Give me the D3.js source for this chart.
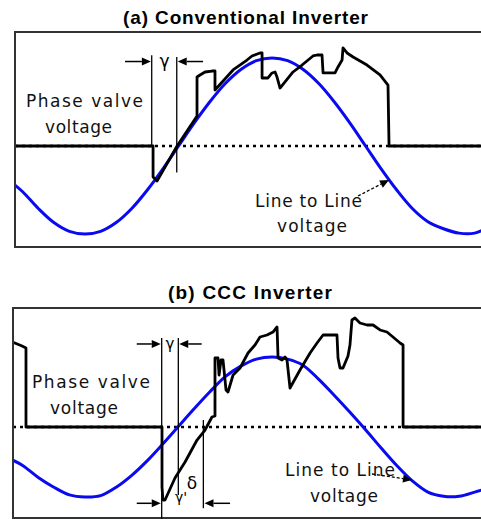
<!DOCTYPE html>
<html><head><meta charset="utf-8">
<script src="https://cdn.jsdelivr.net/npm/d3@7/dist/d3.min.js"></script>
<style>body{margin:0;background:#fff}svg{display:block}</style>
</head><body>
<svg id="c" width="481" height="521"></svg>
<script>
// ---- data (angle in electrical degrees, voltage in p.u. of line-to-line peak) ----
const sineAngles = [-160,-150,-135,-120,-105,-90,-75,-60,-45,-30,-15,0,15,30,45,60,75,90,105,120,135,150,165,180,195,210,225,240,255,270,285,292];
const sineTopValues = [-0.42,-0.52,-0.71,-0.87,-0.97,-1.0,-0.97,-0.87,-0.71,-0.5,-0.26,0,0.26,0.5,0.71,0.87,0.97,1.0,0.97,0.87,0.71,0.5,0.26,0.0,-0.26,-0.5,-0.71,-0.86,-0.94,-0.99,-0.99,-0.96];
const sineBotValues = [-0.47,-0.55,-0.72,-0.86,-0.97,-1.0,-0.98,-0.86,-0.69,-0.48,-0.24,0.01,0.26,0.5,0.72,0.87,0.97,1.0,0.97,0.88,0.68,0.45,0.21,-0.04,-0.3,-0.55,-0.77,-0.93,-0.99,-0.99,-0.93,-0.9];

const valveTopAngles = [-160,-24.5,-24.5,-20.7,-1.4,17.8,17.8,20.7,25.5,32.2,35.1,35.1,52.5,65.9,70.7,78.4,80.4,80.4,86.1,90,92.9,94.8,97.7,110.2,118.9,129.4,133.3,138.1,139.1,150.6,153.5,157.4,158.3,162.2,168,181.4,193.9,201.6,202.6,292];
const valveTopValues = [0,0,-0.352,-0.398,0,0.341,0.784,0.807,0.841,0.852,0.852,0.636,0.864,0.977,1.023,1.057,1.057,0.773,0.773,0.830,0.841,0.784,0.659,0.841,0.920,1.023,1.034,1.034,0.830,0.830,0.898,0.977,1.114,1.057,1.011,0.920,0.807,0.693,0,0];

const valveBotAngles = [-160,-150.6,-146.8,-146.8,-15.9,-15.9,-15.0,-13.0,-3.4,6.3,17.8,25.5,32.2,35.1,35.1,38.0,39.0,40.9,42.8,45.7,47.6,52.5,59.2,66.9,73.6,78.4,85.2,90.9,94.8,95.8,99.6,102.5,104.4,107.3,116.9,126.6,133.3,139.1,152.5,153.5,155.4,158.3,163.1,165.0,166.9,169.8,174.6,181.4,187.2,193.9,200.6,206.4,213.2,216.1,216.1,292];
const valveBotValues = [1.214,1.157,1.129,0,0,-0.857,-1.043,-1.043,-0.729,-0.5,-0.186,-0.043,0.143,0.157,0.986,0.986,0.743,0.957,0.957,0.529,0.5,0.743,0.843,1.057,1.171,1.286,1.314,1.357,1.429,0.986,0.957,1.0,0.957,0.557,0.814,1.057,1.2,1.314,1.314,0.986,0.843,0.843,1.014,1.171,1.529,1.557,1.486,1.457,1.457,1.386,1.357,1.286,1.2,1.171,0,0];

const titles = ["(a) Conventional Inverter", "(b) CCC Inverter"];
const labelPhase = ["Phase valve", "voltage"];
const labelLine = ["Line to Line", "voltage"];

// ---- drawing ----
const svg = d3.select("#c");
const x = d3.scaleLinear().domain([-159.3, 291.1]).range([13, 481]);
const blue = "#0a0af0";
const tf = "DejaVu Sans, Verdana, sans-serif";

const panels = [
  {title: titles[0], titleX: 123, titleY: 24, titleLen: 245,
   box: {x0: 15, y0: 32, y1: 247},
   y: d3.scaleLinear().domain([0, 1]).range([146, 58]),
   sine: sineTopValues, valveA: valveTopAngles, valveV: valveTopValues,
   phase: [{x: 26, y: 107, len: 117}, {x: 45, y: 133, len: 67}],
   line: [{x: 255, y: 207, len: 107}, {x: 277, y: 232, len: 70}],
   lineArrow: [[358, 196], [389, 180]]},
  {title: titles[1], titleX: 168, titleY: 299, titleLen: 164,
   box: {x0: 13, y0: 308, y1: 518},
   y: d3.scaleLinear().domain([0, 1]).range([427, 357]),
   sine: sineBotValues, valveA: valveBotAngles, valveV: valveBotValues,
   phase: [{x: 32, y: 388, len: 118}, {x: 50, y: 414, len: 68}],
   line: [{x: 285, y: 476, len: 110}, {x: 310, y: 502, len: 68}],
   lineArrow: [[372, 474], [412, 480]]}
];

function arrow(g, x1, y1, x2, y2, w, dashed) {
  const a = Math.atan2(y2 - y1, x2 - x1), L = 9, H = 4;
  const bx = x2 - L * Math.cos(a), by = y2 - L * Math.sin(a);
  g.append("line").attr("x1", x1).attr("y1", y1).attr("x2", bx).attr("y2", by)
    .attr("stroke", "#000").attr("stroke-width", w)
    .attr("stroke-dasharray", dashed ? "3,2" : null);
  g.append("path").attr("d", `M${x2},${y2}L${bx - H * Math.sin(a)},${by + H * Math.cos(a)}L${bx + H * Math.sin(a)},${by - H * Math.cos(a)}Z`)
    .attr("fill", "#000");
}

panels.forEach((p, i) => {
  const g = svg.append("g");
  g.append("text").attr("x", p.titleX).attr("y", p.titleY)
    .attr("font-family", "Liberation Sans, Arial, sans-serif").attr("font-weight", "bold")
    .attr("font-size", 19).attr("textLength", p.titleLen).attr("lengthAdjust", "spacing")
    .text(p.title);

  const cid = "clip" + i;
  g.append("clipPath").attr("id", cid).append("rect")
    .attr("x", p.box.x0).attr("y", p.box.y0).attr("width", 481 - p.box.x0).attr("height", p.box.y1 - p.box.y0);
  const inner = g.append("g").attr("clip-path", `url(#${cid})`);

  // dotted zero line
  inner.append("line").attr("x1", p.box.x0).attr("x2", 481)
    .attr("y1", p.y(0)).attr("y2", p.y(0))
    .attr("stroke", "#000").attr("stroke-width", 2.6).attr("stroke-dasharray", "3,4");

  // blue line-to-line voltage
  const sineLine = d3.line().x((d, k) => x(sineAngles[k])).y(d => p.y(d)).curve(d3.curveCatmullRom);
  inner.append("path").attr("d", sineLine(p.sine)).attr("fill", "none")
    .attr("stroke", blue).attr("stroke-width", 3);

  // black phase valve voltage
  const valveLine = d3.line().x((d, k) => x(p.valveA[k])).y(d => p.y(d));
  inner.append("path").attr("d", valveLine(p.valveV)).attr("fill", "none")
    .attr("stroke", "#000").attr("stroke-width", 2.8).attr("stroke-linejoin", "round");

  // box
  g.append("rect").attr("x", p.box.x0).attr("y", p.box.y0).attr("width", 481 - p.box.x0 + 5)
    .attr("height", p.box.y1 - p.box.y0).attr("fill", "none").attr("stroke", "#333").attr("stroke-width", 2);

  labelPhase.forEach((t, k) => g.append("text").attr("x", p.phase[k].x).attr("y", p.phase[k].y)
    .attr("font-family", tf).attr("font-size", 17).attr("fill", "#111")
    .attr("textLength", p.phase[k].len).attr("lengthAdjust", "spacing").text(t));
  labelLine.forEach((t, k) => g.append("text").attr("x", p.line[k].x).attr("y", p.line[k].y)
    .attr("font-family", tf).attr("font-size", 17).attr("fill", "#111")
    .attr("textLength", p.line[k].len).attr("lengthAdjust", "spacing").text(t));
  arrow(g, p.lineArrow[0][0], p.lineArrow[0][1], p.lineArrow[1][0], p.lineArrow[1][1], 1.3, true);
});

// ---- commutation-angle annotations ----
const pTop = panels[0], pBot = panels[1];
const ann = svg.append("g").attr("stroke", "#000");
function vline(px, v1, v2, ys) {
  ann.append("line").attr("x1", x(px)).attr("x2", x(px)).attr("y1", ys(v1)).attr("y2", ys(v2)).attr("stroke-width", 1.3);
}
// (a)
vline(-25.8, 1.03, 0, pTop.y);
vline(-1.7, 1.01, -0.3, pTop.y);
arrow(svg, x(-51.5), pTop.y(0.96), x(-26.6), pTop.y(0.96), 1.5, false);
arrow(svg, x(23.6), pTop.y(0.96), x(-0.8), pTop.y(0.96), 1.5, false);
svg.append("text").attr("x", x(-13.5)).attr("y", pTop.y(0.9)).attr("text-anchor", "middle")
  .attr("font-family", tf).attr("font-size", 17).text("γ");
// (b)
vline(-16.2, 1.27, -1.31, pBot.y);
vline(-0.2, 1.27, -0.97, pBot.y);
vline(23.9, 0.1, -1.16, pBot.y);
arrow(svg, x(-40.2), pBot.y(1.186), x(-17.1), pBot.y(1.186), 1.5, false);
arrow(svg, x(22.3), pBot.y(1.186), x(0.7), pBot.y(1.186), 1.5, false);
arrow(svg, x(-40.2), pBot.y(-1.09), x(-17.1), pBot.y(-1.09), 1.5, false);
arrow(svg, x(49.6), pBot.y(-1.09), x(25), pBot.y(-1.09), 1.5, false);
svg.append("text").attr("x", x(-8.2)).attr("y", pBot.y(1.11)).attr("text-anchor", "middle")
  .attr("font-family", tf).attr("font-size", 15).text("γ");
svg.append("text").attr("x", x(2.5)).attr("y", pBot.y(-1.07)).attr("text-anchor", "middle")
  .attr("font-family", tf).attr("font-size", 14).text("γ'");
svg.append("text").attr("x", x(13)).attr("y", pBot.y(-0.88)).attr("text-anchor", "middle")
  .attr("font-family", tf).attr("font-size", 17).text("δ");
</script>
</body></html>
